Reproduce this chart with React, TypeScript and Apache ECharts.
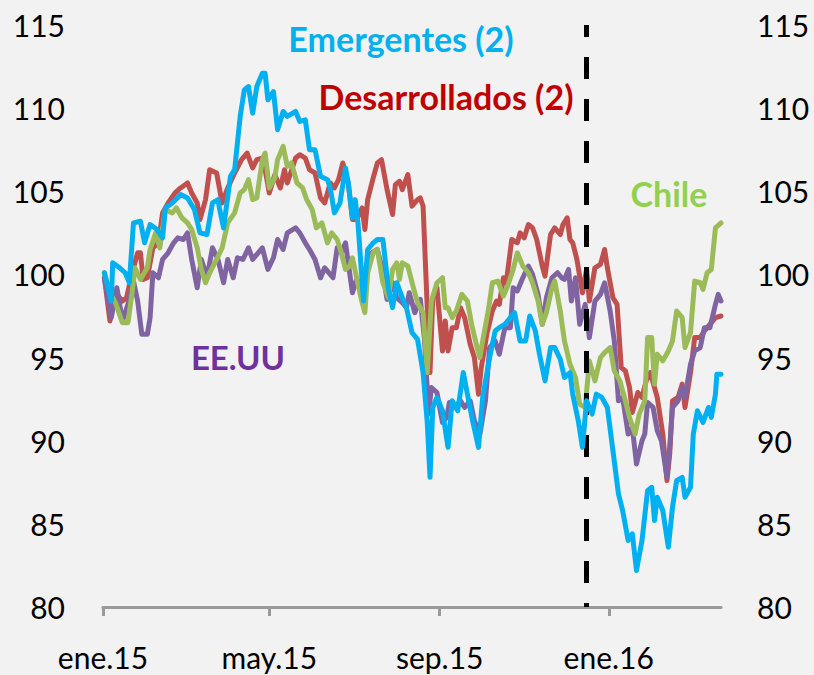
import React, { useEffect, useRef } from "react";
import * as echarts from "echarts";

// x = days since 2015-01-01
const tickDays = [0, 120, 243, 365];
const tickLabels = ["ene.15", "may.15", "sep.15", "ene.16"];
const fedDay = 349; // 16 dic 2015
const yTicks = [80, 85, 90, 95, 100, 105, 110, 115];

const emergentes: [number, number][] = [
  [1,100.1],[6,98.4],[7,100.7],[12,100.4],[16,100.1],[19,99.5],[22,103.1],[27,103.2],[30,101.9],[34,103.0],
  [39,102.7],[43,102.2],[45,104.0],[50,104.3],[56,104.8],[61,104.6],[66,103.9],[70,102.5],[75,102.4],[79,104.3],
  [83,104.5],[84,104.0],[87,102.8],[92,105.9],[95,106.3],[99,109.5],[102,111.1],[105,111.3],[108,109.7],[111,111.3],
  [115,112.1],[117,112.1],[119,110.5],[123,111.0],[126,108.7],[130,109.8],[133,109.5],[139,109.8],[142,109.2],[146,109.3],
  [149,107.5],[153,107.5],[157,105.9],[162,105.7],[164,105.2],[167,103.7],[171,104.3],[175,106.4],[177,105.5],[180,103.4],
  [182,104.5],[184,103.1],[188,98.4],[191,101.5],[195,101.9],[198,102.1],[202,102.1],[206,99.1],[209,98.0],[212,99.5],
  [216,98.6],[219,98.0],[223,96.5],[227,96.1],[231,94.1],[234,91.1],[236,87.8],[238,92.0],[241,92.6],[245,91.8],
  [249,89.6],[252,92.4],[256,91.8],[260,94.1],[263,92.8],[267,91.1],[271,89.6],[274,92.6],[279,95.0],[283,96.6],
  [286,96.8],[290,97.0],[294,97.4],[297,97.7],[301,96.0],[305,96.0],[308,97.5],[312,96.6],[315,95.2],[319,93.6],
  [323,95.6],[326,95.6],[330,94.9],[333,93.8],[337,94.1],[339,92.8],[343,91.2],[346,89.6],[349,92.4],[353,91.6],
  [356,92.8],[360,92.6],[364,92.0],[368,89.4],[372,86.8],[375,85.8],[379,84.0],[382,84.4],[385,82.2],[389,84.0],
  [393,87.0],[396,87.2],[398,85.2],[400,86.6],[404,85.8],[408,83.6],[411,86.0],[414,87.6],[418,87.8],[420,86.6],
  [424,87.2],[426,90.4],[429,91.8],[433,91.1],[437,92.0],[439,91.4],[442,92.8],[443,94.0],[446,94.0]
];

const desarrollados: [number, number][] = [
  [1,99.8],[5,97.2],[9,98.9],[14,98.4],[17,98.6],[21,100.1],[25,101.3],[27,101.3],[29,99.7],[32,99.8],
  [36,101.6],[40,101.9],[43,103.7],[47,104.3],[52,104.9],[56,105.2],[61,105.5],[64,104.9],[68,104.3],[70,103.3],
  [74,104.5],[77,106.3],[82,106.1],[86,104.3],[90,105.2],[95,106.1],[100,106.9],[104,107.3],[108,106.4],[111,106.9],
  [115,107.0],[117,106.3],[120,104.9],[124,106.0],[128,105.2],[131,106.3],[133,105.5],[139,107.0],[142,107.2],[146,107.0],
  [149,106.3],[153,106.1],[157,104.6],[160,104.3],[164,105.5],[167,105.2],[170,105.7],[173,106.7],[177,105.5],[180,103.3],
  [183,103.3],[187,104.0],[189,102.7],[191,104.5],[195,105.8],[198,106.7],[201,106.9],[205,105.1],[209,103.6],[211,105.4],
  [214,105.6],[216,105.1],[220,106.0],[223,104.1],[227,104.5],[229,104.6],[231,104.1],[234,98.0],[236,94.1],[238,98.6],
  [241,99.2],[245,95.4],[247,97.2],[249,95.4],[252,96.8],[255,96.8],[258,98.0],[261,97.4],[265,95.8],[268,95.0],
  [271,92.8],[273,94.4],[277,96.4],[281,97.8],[284,98.4],[286,98.2],[289,99.8],[291,99.5],[295,102.1],[299,101.9],
  [301,102.5],[304,102.2],[307,103.0],[310,102.8],[313,102.1],[317,100.5],[319,99.9],[323,102.4],[326,102.8],[330,102.4],
  [332,103.0],[335,103.4],[337,102.1],[339,101.9],[342,100.9],[344,99.9],[346,98.9],[349,100.3],[351,98.4],[355,100.4],
  [359,100.6],[362,101.5],[364,100.4],[368,98.6],[371,98.2],[374,94.4],[377,94.2],[380,93.2],[382,91.7],[386,92.9],
  [389,92.6],[392,93.6],[395,94.1],[398,93.2],[400,92.6],[404,90.4],[407,87.6],[409,89.2],[411,92.4],[415,92.6],
  [418,93.4],[420,92.0],[424,94.1],[427,96.2],[431,96.2],[434,96.6],[438,97.0],[442,97.4],[446,97.5]
];

const chile: [number, number][] = [
  [1,100.1],[5,98.9],[9,98.3],[14,97.1],[18,97.1],[21,98.9],[23,100.4],[27,99.7],[32,100.4],[34,101.5],
  [38,102.5],[41,101.6],[45,103.9],[50,103.7],[53,104.0],[57,103.4],[61,103.1],[64,102.7],[68,101.6],[71,100.3],
  [74,99.5],[77,100.1],[82,100.9],[86,101.6],[90,103.1],[95,103.7],[99,104.9],[102,105.1],[105,105.7],[108,104.5],
  [111,104.6],[115,106.9],[117,107.3],[120,105.2],[124,105.8],[126,106.9],[130,107.7],[133,106.5],[136,106.7],[140,105.5],
  [144,105.2],[147,104.5],[151,103.9],[154,102.8],[158,103.1],[162,101.9],[165,102.5],[169,102.1],[172,101.3],[175,100.3],
  [178,100.5],[180,101.0],[183,99.8],[187,98.3],[189,97.7],[191,100.1],[195,101.3],[198,101.5],[202,99.5],[206,98.6],
  [209,100.3],[212,100.7],[214,99.7],[216,100.7],[220,100.5],[224,99.2],[227,98.3],[231,97.7],[234,94.1],[237,98.4],
  [241,99.5],[245,99.8],[247,98.0],[249,98.0],[252,97.4],[255,97.8],[259,98.8],[263,98.4],[266,97.0],[270,95.6],
  [272,95.0],[274,96.0],[278,97.8],[281,99.5],[285,99.6],[289,98.7],[292,99.3],[296,100.3],[299,101.3],[303,100.5],
  [307,100.1],[310,99.5],[314,98.4],[317,97.0],[320,97.7],[324,99.2],[326,99.6],[330,97.8],[333,96.0],[337,94.6],
  [341,93.8],[344,92.2],[348,92.0],[351,94.8],[355,93.6],[359,95.0],[362,95.3],[366,95.6],[369,94.2],[373,93.6],
  [377,92.4],[380,91.4],[384,90.4],[387,91.6],[391,92.4],[393,96.2],[396,96.2],[398,93.4],[400,95.2],[404,94.8],
  [408,95.4],[411,96.0],[414,97.8],[418,97.4],[420,95.6],[424,96.5],[427,99.6],[431,99.5],[433,99.1],[436,100.1],
  [439,100.3],[442,102.8],[446,103.1]
];

const eeuu: [number, number][] = [
  [1,99.8],[6,97.4],[10,99.2],[14,97.2],[18,98.2],[22,99.6],[25,98.4],[28,96.4],[32,96.4],[34,97.4],
  [36,100.1],[40,99.8],[43,100.9],[47,101.3],[51,101.9],[54,102.2],[58,102.1],[61,102.5],[64,100.9],[68,99.2],
  [71,100.9],[75,99.8],[79,101.6],[83,100.9],[87,99.5],[90,100.9],[94,99.8],[97,101.0],[101,100.9],[105,101.6],
  [108,100.9],[112,101.3],[115,101.6],[119,100.3],[123,101.0],[126,102.1],[130,101.5],[133,102.5],[139,102.8],[142,102.5],
  [146,101.9],[149,101.5],[153,100.9],[157,99.8],[160,100.4],[164,100.0],[166,99.8],[169,101.6],[172,101.3],[175,101.9],
  [177,100.7],[180,98.9],[183,99.7],[187,99.2],[190,100.3],[194,101.3],[198,101.5],[201,100.5],[205,98.5],[209,99.5],
  [212,98.6],[216,98.3],[219,98.0],[221,98.9],[225,97.7],[229,98.5],[232,96.1],[235,91.6],[237,93.2],[241,92.9],
  [245,91.1],[248,91.4],[250,92.3],[254,92.0],[258,92.4],[261,92.0],[265,92.4],[268,91.2],[272,90.4],[276,92.4],
  [279,95.6],[283,96.0],[286,95.2],[290,96.8],[294,96.8],[296,99.2],[299,99.0],[303,99.8],[307,100.5],[310,100.0],
  [314,98.8],[317,97.0],[320,98.6],[324,99.8],[328,100.1],[331,99.8],[333,99.7],[336,100.3],[338,98.4],[341,99.8],
  [344,97.0],[348,98.2],[351,96.2],[355,98.4],[359,98.8],[362,99.5],[366,97.8],[369,96.0],[372,92.4],[375,92.6],
  [379,90.4],[382,90.8],[385,88.6],[389,90.0],[391,90.4],[393,92.3],[397,92.0],[400,90.6],[403,90.0],[407,87.8],
  [409,89.6],[411,92.0],[415,92.4],[418,93.2],[420,92.6],[424,94.6],[427,95.4],[431,95.6],[434,96.8],[438,96.8],
  [442,98.2],[444,98.8],[446,98.4]
];

const FONT = "Lato";

export default function App() {
  const ref = useRef<HTMLDivElement>(null);
  useEffect(() => {
    if (!ref.current) return;
    const chart = echarts.init(ref.current, null, { renderer: "svg" });
    const lineSeries = (name: string, data: [number, number][], color: string, z: number) => ({
      name,
      type: "line",
      data,
      showSymbol: false,
      symbol: "none",
      lineStyle: { color, width: 5, join: "round", cap: "round" },
      z,
      silent: true,
    });
    const yAxisBase = {
      type: "value",
      min: yTicks[0],
      max: yTicks[yTicks.length - 1],
      interval: 5,
      axisLine: { show: false },
      axisTick: { show: false },
      splitLine: { show: false },
    };
    chart.setOption({
      animation: false,
      backgroundColor: "#f2f2f2",
      grid: { left: 103, right: 93, top: 25, bottom: 68, containLabel: false },
      xAxis: {
        type: "value",
        min: 0,
        max: 446,
        axisLine: { show: true, lineStyle: { color: "#9a9a9a", width: 3 } },
        axisTick: {
          show: true,
          customValues: tickDays,
          length: 9,
          lineStyle: { color: "#9a9a9a", width: 3 },
        },
        axisLabel: {
          customValues: tickDays,
          formatter: (v: number) => tickLabels[tickDays.indexOf(v)] ?? "",
          fontFamily: FONT,
          fontSize: 30,
          color: "#000",
          margin: 35,
        },
        splitLine: { show: false },
      },
      yAxis: [
        {
          ...yAxisBase,
          position: "left",
          axisLabel: { fontFamily: FONT, fontSize: 30, color: "#000", margin: 38 },
        },
        {
          ...yAxisBase,
          position: "right",
          axisLabel: { fontFamily: FONT, fontSize: 30, color: "#000", margin: 36 },
        },
      ],
      series: [
        lineSeries("Desarrollados (2)", desarrollados, "#c0504d", 2),
        lineSeries("EE.UU", eeuu, "#8064a2", 3),
        lineSeries("Chile", chile, "#9bbb59", 4),
        lineSeries("Emergentes (2)", emergentes, "#00b0f0", 5),
        {
          type: "line",
          data: [],
          z: 10,
          silent: true,
          markLine: {
            silent: true,
            symbol: ["none", "none"],
            label: { show: false },
            lineStyle: { color: "#000", width: 5, type: [22, 20], dashOffset: 18 },
            data: [{ xAxis: fedDay }],
          },
        },
      ],
      graphic: [
        { type: "text", x: 401, y: 38, z: 20, style: { text: "Emergentes (2)", fill: "#00b0f0", font: `bold 34px ${FONT}`, textAlign: "center", textVerticalAlign: "middle" } },
        { type: "text", x: 446, y: 96, z: 20, style: { text: "Desarrollados (2)", fill: "#c00000", font: `bold 34px ${FONT}`, textAlign: "center", textVerticalAlign: "middle" } },
        { type: "text", x: 669, y: 193, z: 20, style: { text: "Chile", fill: "#92d050", font: `bold 34px ${FONT}`, textAlign: "center", textVerticalAlign: "middle" } },
        { type: "text", x: 238, y: 357, z: 20, style: { text: "EE.UU", fill: "#7030a0", font: `bold 33px ${FONT}`, textAlign: "center", textVerticalAlign: "middle" } },
      ],
    });
    return () => chart.dispose();
  }, []);
  return (
    <div
      ref={ref}
      style={{ position: "absolute", left: 0, top: 0, width: 814, height: 675 }}
    />
  );
}
